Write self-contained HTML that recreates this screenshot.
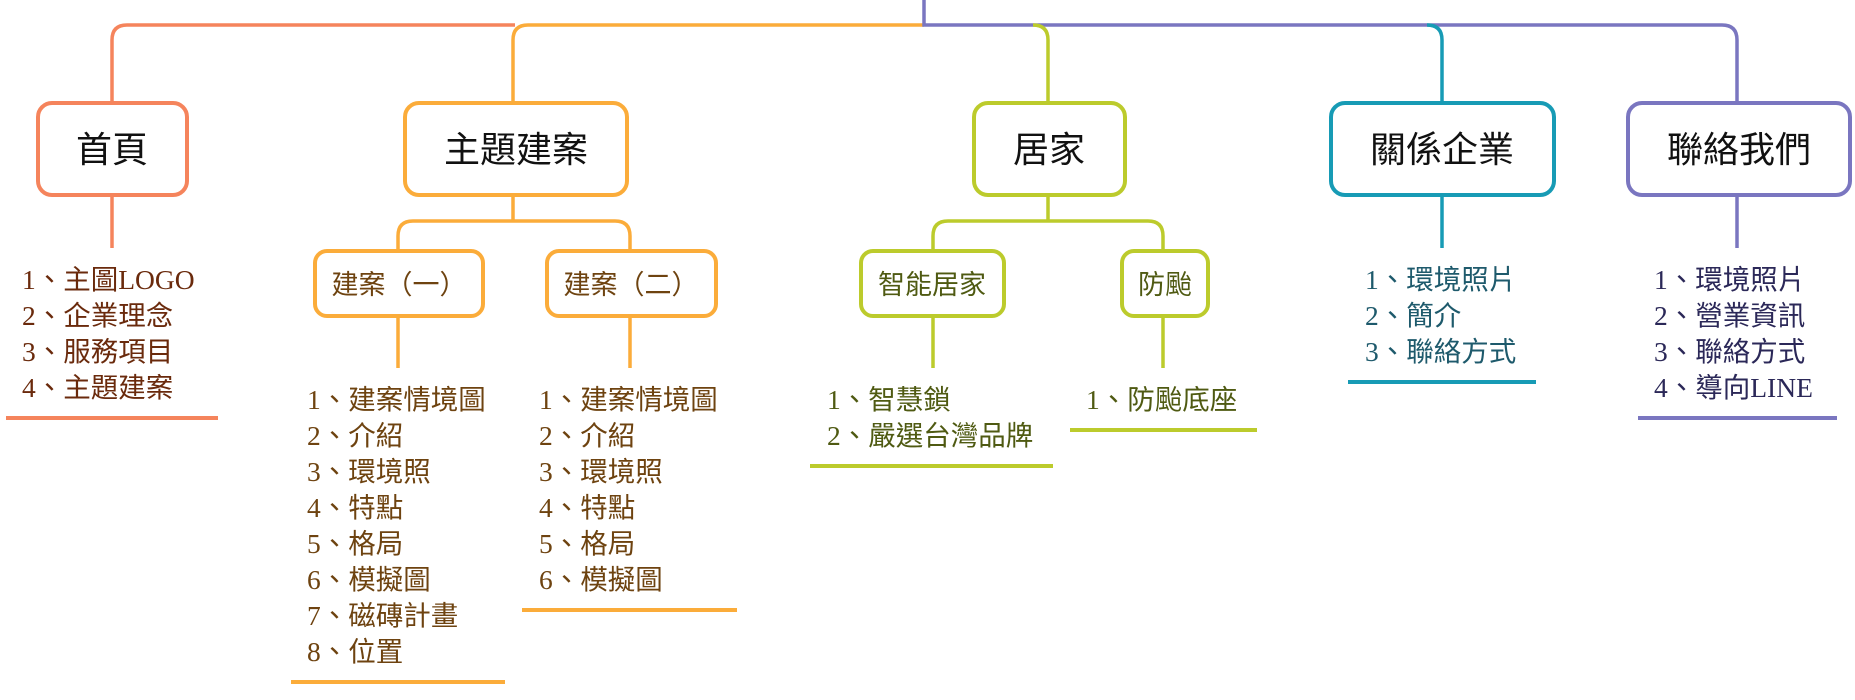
<!DOCTYPE html>
<html><head><meta charset="utf-8"><style>
html,body{margin:0;padding:0;background:#fff;width:1855px;height:700px;overflow:hidden}
svg text{font-family:"Liberation Serif","Noto Sans CJK TC",serif}
.m{font-family:"Liberation Sans","Noto Sans CJK TC",sans-serif;font-size:36px;fill:#111}
.s{font-family:"Liberation Sans","Noto Sans CJK TC",sans-serif;font-size:27px}
.l{font-size:27.5px}
</style></head><body>
<svg width="1855" height="700" xmlns="http://www.w3.org/2000/svg" fill="none" stroke-width="3.5">
<path d="M112,102 V40 Q112,25 127,25 H515" stroke="#F5845C"/>
<path d="M513,102 V40 Q513,25 528,25 H924" stroke="#FBAC3A"/>
<path d="M924,0 V25 H1722 Q1737,25 1737,40 V102" stroke="#7A76C0"/>
<path d="M1033,25 Q1048,25 1048,40 V102" stroke="#BCCB2C"/>
<path d="M1427,25 Q1442,25 1442,40 V102" stroke="#179BB5"/>
<path d="M112,196 V248" stroke="#F5845C"/>
<path d="M513,196 V221 M398,250 V236 Q398,221 413,221 H615 Q630,221 630,236 V250 M398,316 V368 M630,316 V368" stroke="#FBAC3A"/>
<path d="M1048,196 V221 M933,250 V236 Q933,221 948,221 H1148 Q1163,221 1163,236 V250 M933,316 V368 M1163,316 V368" stroke="#BCCB2C"/>
<path d="M1442,196 V248" stroke="#179BB5"/>
<path d="M1737,196 V248" stroke="#7A76C0"/>
<g stroke-width="4">
<path d="M6,418 H218" stroke="#F5845C"/>
<path d="M291,682 H505 M522,610 H737" stroke="#FBAC3A"/>
<path d="M810,466 H1053 M1070,430 H1257" stroke="#BCCB2C"/>
<path d="M1348,382 H1536" stroke="#179BB5"/>
<path d="M1638,418 H1837" stroke="#7A76C0"/>
</g>
<g stroke-width="4" fill="#fff">
<rect x="38" y="103" width="149" height="92" rx="14" stroke="#F5845C"/>
<rect x="405" y="103" width="222" height="92" rx="14" stroke="#FBAC3A"/>
<rect x="974" y="103" width="151" height="92" rx="14" stroke="#BCCB2C"/>
<rect x="1331" y="103" width="223" height="92" rx="14" stroke="#179BB5"/>
<rect x="1628" y="103" width="222" height="92" rx="14" stroke="#7A76C0"/>
<rect x="315" y="251" width="168" height="65" rx="12" stroke="#FBAC3A"/>
<rect x="547" y="251" width="169" height="65" rx="12" stroke="#FBAC3A"/>
<rect x="861" y="251" width="143" height="65" rx="12" stroke="#BCCB2C"/>
<rect x="1122" y="251" width="86" height="65" rx="12" stroke="#BCCB2C"/>
</g>
<g text-anchor="middle" stroke="none">
<text class="m" x="112" y="162">首頁</text>
<text class="m" x="516" y="162">主題建案</text>
<text class="m" x="1049" y="162">居家</text>
<text class="m" x="1442" y="162">關係企業</text>
<text class="m" x="1739" y="162">聯絡我們</text>
<text class="s" x="399" y="294" fill="#6E4310">建案（一）</text>
<text class="s" x="631" y="294" fill="#6E4310">建案（二）</text>
<text class="s" x="932" y="294" fill="#4F5A12">智能居家</text>
<text class="s" x="1165" y="294" fill="#4F5A12">防颱</text>
</g>
<g stroke="none">
<g fill="#6A2A0C"><text class="l" x="22" y="289">1、主圖LOGO</text><text class="l" x="22" y="325">2、企業理念</text><text class="l" x="22" y="361">3、服務項目</text><text class="l" x="22" y="397">4、主題建案</text></g>
<g fill="#6E4310">
<text class="l" x="307" y="409">1、建案情境圖</text><text class="l" x="307" y="445">2、介紹</text><text class="l" x="307" y="481">3、環境照</text><text class="l" x="307" y="517">4、特點</text><text class="l" x="307" y="553">5、格局</text><text class="l" x="307" y="589">6、模擬圖</text><text class="l" x="307" y="625">7、磁磚計畫</text><text class="l" x="307" y="661">8、位置</text>
<text class="l" x="539" y="409">1、建案情境圖</text><text class="l" x="539" y="445">2、介紹</text><text class="l" x="539" y="481">3、環境照</text><text class="l" x="539" y="517">4、特點</text><text class="l" x="539" y="553">5、格局</text><text class="l" x="539" y="589">6、模擬圖</text>
</g>
<g fill="#4F5A12"><text class="l" x="827" y="409">1、智慧鎖</text><text class="l" x="827" y="445">2、嚴選台灣品牌</text><text class="l" x="1086" y="409">1、防颱底座</text></g>
<g fill="#1E5A6C"><text class="l" x="1365" y="289">1、環境照片</text><text class="l" x="1365" y="325">2、簡介</text><text class="l" x="1365" y="361">3、聯絡方式</text></g>
<g fill="#2B2858"><text class="l" x="1654" y="289">1、環境照片</text><text class="l" x="1654" y="325">2、營業資訊</text><text class="l" x="1654" y="361">3、聯絡方式</text><text class="l" x="1654" y="397">4、導向LINE</text></g>
</g>
</svg>
</body></html>
